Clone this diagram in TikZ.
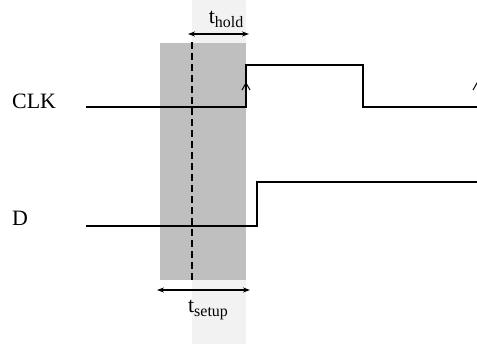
\documentclass[tikz,border=0pt]{standalone}
\usepackage{fontspec}
\setmainfont{Liberation Serif}
\usetikzlibrary{arrows.meta}
\newcommand{\subtxt}[1]{\raisebox{-4.5bp}{\fontsize{16}{18}\selectfont #1}}
\begin{document}
\begin{tikzpicture}[x=1bp,y=-1bp,
  sig/.style={line width=2bp},
  dim/.style={line width=1.6bp,{Stealth[length=7bp,width=5bp]}-{Stealth[length=7bp,width=5bp]}},
  edge/.style={line width=1bp,-{Straight Barb[length=7bp,width=8bp]}},
  lbl/.style={font=\fontsize{22}{25}\selectfont, inner sep=0pt}]
\useasboundingbox (0,0) rectangle (477,344);
\fill[black!5] (192,0) rectangle (246,344);
\fill[black!25] (160,43) rectangle (246,280);
\draw[line width=1.8bp, dash pattern=on 7bp off 4bp] (192,42) -- (192,283);
% signals
\coordinate (c0) at (86,107);
\coordinate (c1) at (246,107);
\coordinate (c2) at (246,65);
\coordinate (c3) at (363,65);
\coordinate (c4) at (363,107);
\coordinate (c5) at (477,107);
\draw[sig] (c0) -- (c1) -- (c2) -- (c3) -- (c4) -- (c5);
\coordinate (d0) at (86,226);
\coordinate (d1) at (257,226);
\coordinate (d2) at (257,182);
\coordinate (d3) at (477,182);
\draw[sig] (d0) -- (d1) -- (d2) -- (d3);
% clock edge markers
\coordinate (e0) at (246,95);
\coordinate (e1) at (246,82);
\draw[edge] (e0) -- (e1);
\coordinate (f0) at (477,95);
\coordinate (f1) at (477,82);
\draw[edge] (f0) -- (f1);
% labels
\node[lbl, anchor=base west] (clk) at (12,108) {CLK};
\node[lbl, anchor=base west] (d) at (12,225) {D};
% dimension arrows
\coordinate (h0) at (188,34);
\coordinate (h1) at (249,34);
\draw[dim] (h0) -- (h1);
\node[lbl, anchor=base] (th) at (226,23) {t\subtxt{hold}};
\coordinate (s0) at (157,290);
\coordinate (s1) at (250,290);
\draw[dim] (s0) -- (s1);
\node[lbl, anchor=base] (ts) at (208,312) {t\subtxt{setup}};
\end{tikzpicture}
\end{document}
